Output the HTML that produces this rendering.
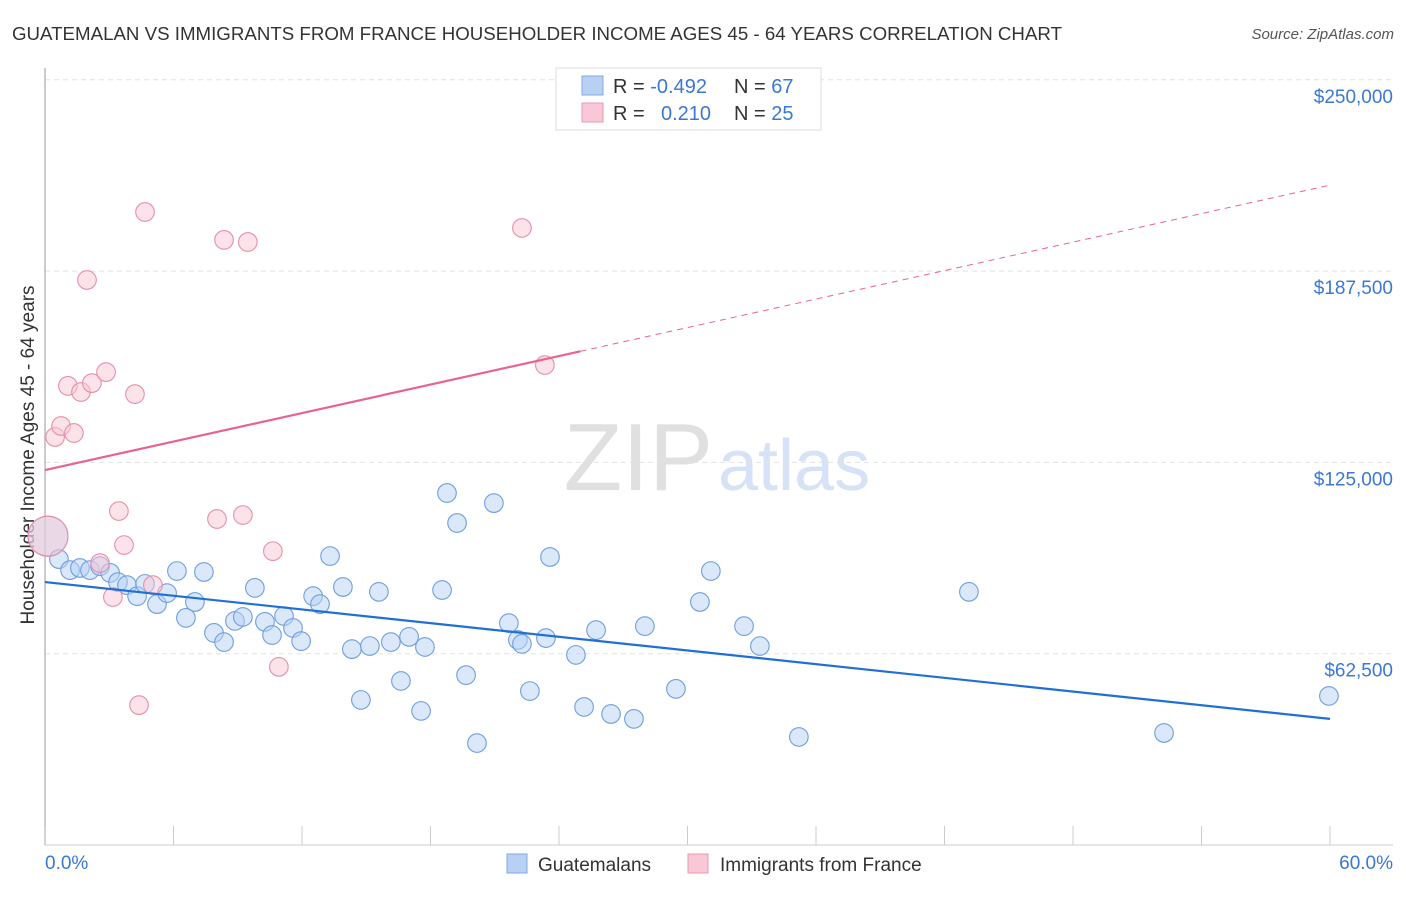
<!DOCTYPE html>
<html><head><meta charset="utf-8"><style>
body{margin:0;background:#fff;font-family:"Liberation Sans",sans-serif}
svg text{font-family:"Liberation Sans",sans-serif}
</style></head><body>
<svg id="c" width="1406" height="892" xmlns="http://www.w3.org/2000/svg">
<text x="12" y="40" font-size="18" fill="#333" textLength="1050" lengthAdjust="spacingAndGlyphs">GUATEMALAN VS IMMIGRANTS FROM FRANCE HOUSEHOLDER INCOME AGES 45 - 64 YEARS CORRELATION CHART</text>
<text x="1394" y="39" font-size="15" fill="#555" font-style="italic" text-anchor="end">Source: ZipAtlas.com</text>
<text x="713" y="490" font-size="96" fill="#e0e0e0" font-family="Liberation Serif" text-anchor="end">ZIP</text>
<text x="718" y="490" font-size="72" fill="#d6e2f5">atlas</text>
<g id="grid"></g>
<line x1="45" y1="68" x2="45" y2="845" stroke="#bbb" stroke-width="1.5"/>
<line x1="45" y1="845" x2="1393" y2="845" stroke="#ccc"/>
<g id="ticks"></g>
<text x="34" y="455" font-size="19" fill="#333" text-anchor="middle" transform="rotate(-90 34 455)">Householder Income Ages 45 - 64 years</text>
<text x="45" y="869" font-size="19" fill="#3a78d4">0.0%</text>
<text x="1393" y="869" font-size="19" fill="#3a78d4" text-anchor="end">60.0%</text>
<g id="pts"></g>
<g id="lines"></g>
<g>
<rect x="556" y="68" width="265" height="62" fill="#fff" stroke="#ddd"/>
<rect x="582" y="76" width="21" height="19" fill="#b8d1f3" stroke="#7fa8e0"/>
<rect x="582" y="103" width="21" height="19" fill="#f9c8d6" stroke="#e89ab2"/>
<text x="613" y="93" font-size="20" fill="#333">R = <tspan fill="#3a78d4">-0.492</tspan><tspan x="734">N = </tspan><tspan fill="#3a78d4">67</tspan></text>
<text x="613" y="120" font-size="20" fill="#333">R = <tspan x="661" fill="#3a78d4">0.210</tspan><tspan x="734">N = </tspan><tspan fill="#3a78d4">25</tspan></text>
</g>
<g><rect x="507" y="854" width="20" height="19" fill="#b8d1f3" stroke="#7fa8e0"/><text x="538" y="871" font-size="19" fill="#333">Guatemalans</text></g>
<g><rect x="688" y="854" width="20" height="19" fill="#f9c8d6" stroke="#e89ab2"/><text x="720" y="871" font-size="19" fill="#333">Immigrants from France</text></g>
</svg>
<script>
const yTicks=[62500,125000,187500,250000];
const yTickLabels=["$62,500","$125,000","$187,500","$250,000"];
const blueX=[0.14,0.65,1.17,1.63,2.10,2.57,3.04,3.41,3.83,4.30,4.67,5.23,5.70,6.16,6.58,7.00,7.42,7.89,8.36,8.87,9.24,9.80,10.27,10.60,11.16,11.58,11.96,12.52,12.84,13.31,13.91,14.33,14.75,15.17,15.59,16.15,16.62,17.00,17.56,17.74,18.54,18.77,19.24,19.66,20.17,20.96,21.66,22.08,22.27,22.64,23.39,23.58,24.79,25.17,25.73,26.43,27.50,28.01,29.46,30.58,31.09,32.64,33.38,35.20,43.14,52.25,59.95];
const blueY=[100.9,93.4,89.8,90.5,89.8,91.1,88.9,85.9,84.9,81.3,85.3,78.7,82.3,89.5,74.2,79.4,89.2,69.3,66.3,73.2,74.5,84.0,72.9,68.6,74.8,70.9,66.6,81.3,78.7,94.4,84.3,64.0,47.4,65.0,82.7,66.3,53.6,68.0,43.8,64.7,83.3,115.0,105.2,55.5,33.3,111.7,72.5,67.0,65.7,50.3,67.6,94.1,62.1,45.1,70.2,42.8,41.2,71.5,51.0,79.4,89.5,71.5,65.0,35.3,82.7,36.6,48.7];
const pinkX=[0.14,0.47,0.75,1.07,1.35,1.68,1.96,2.19,2.57,2.85,3.17,3.45,3.69,4.20,4.39,4.67,5.04,8.03,8.36,9.24,9.47,10.64,10.92,22.27,23.34];
const pinkY=[100.9,133.3,136.9,150.0,134.6,148.0,184.6,150.9,92.1,154.5,81.0,109.1,98.0,147.3,45.7,206.8,84.9,106.5,197.7,107.8,197.0,96.0,58.2,201.6,156.8];
const blueTrend=[85.9,41.2];
const pinkTrend=[122.5,215.6];
const pinkSolidEnd=25;
const NS="http://www.w3.org/2000/svg";
const xs=p=>45+p/60*1285;
const ys=v=>845-v/62.5*191.3;
function mk(t,a,parent){const e=document.createElementNS(NS,t);for(const k in a)e.setAttribute(k,a[k]);document.getElementById(parent).appendChild(e);return e;}
yTicks.forEach((t,i)=>{
 const l=mk('line',{x1:45,x2:1393,y1:ys(t/1000),y2:ys(t/1000),stroke:'#e2e2e2','stroke-dasharray':'5,4'},'grid');
 
 
 const tx=mk('text',{x:1393,y:ys(t/1000)+23,'font-size':19,fill:'#3a78d4','text-anchor':'end'},'grid');
 tx.textContent=yTickLabels[i];
 
 
});
for(let i=0;i<=10;i++){
 const l=mk('line',{x1:xs(i*6),x2:xs(i*6),y1:826,y2:845,stroke:'#ccc'},'ticks');
 
 
}
function dots(X,Y,fill,stroke,name){
 X.forEach((x,i)=>{
  const big=i===0;
  const c=mk('circle',{cx:xs(x),cy:ys(Y[i]),r:big?20:9.3,fill:fill,'fill-opacity':big?0.5:0.5,stroke:stroke,'stroke-width':1.1},'pts');
  
  
 });
}
dots(blueX,blueY,'#b8d1f3','#6e9fe0','guatemalan-point');
dots(pinkX,pinkY,'#f9c8d6','#e68fab','france-point');
let l=mk('line',{x1:xs(0),y1:ys(blueTrend[0]),x2:xs(60),y2:ys(blueTrend[1]),stroke:'#1f6fd6','stroke-width':2.2},'lines');


const pAt=p=>pinkTrend[0]+(pinkTrend[1]-pinkTrend[0])*p/60;
l=mk('line',{x1:xs(0),y1:ys(pAt(0)),x2:xs(pinkSolidEnd),y2:ys(pAt(pinkSolidEnd)),stroke:'#e8648e','stroke-width':2.2},'lines');


l=mk('line',{x1:xs(pinkSolidEnd),y1:ys(pAt(pinkSolidEnd)),x2:xs(60),y2:ys(pAt(60)),stroke:'#e8648e','stroke-width':1,'stroke-dasharray':'6,5'},'lines');


</script>
</body></html>
